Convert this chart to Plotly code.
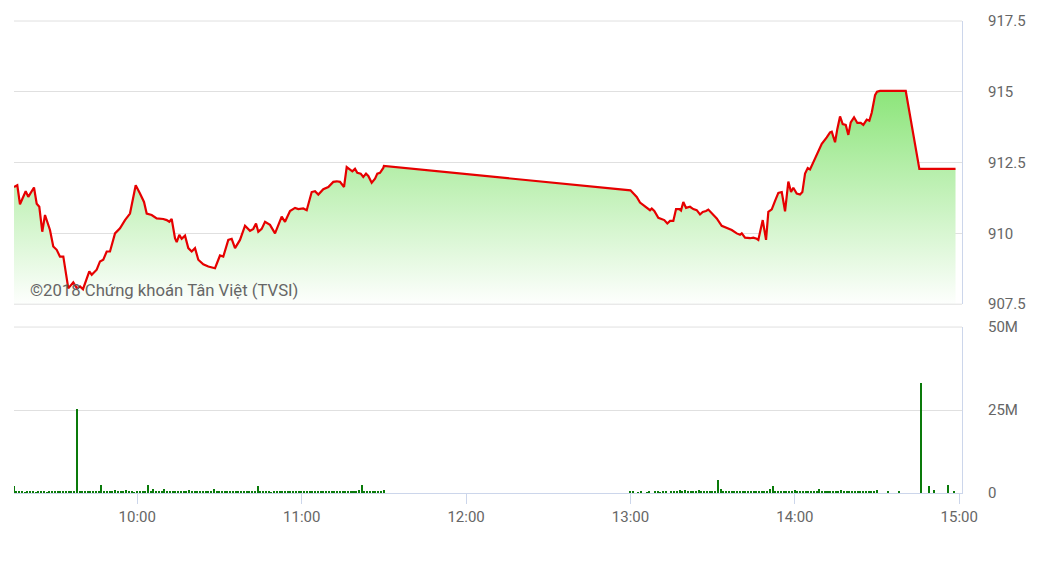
import plotly.graph_objects as go
from datetime import datetime, timedelta

DAY = "2018-08-20"

# ---- price (VN-Index intraday) ----
price_time = [
    "09:15:00", "09:16:12", "09:17:11", "09:18:23", "09:19:16", "09:20:13", "09:21:28", "09:22:18",
    "09:23:17", "09:24:14", "09:25:19", "09:26:19", "09:28:08", "09:29:20", "09:30:35", "09:31:47",
    "09:33:00", "09:34:49", "09:36:38", "09:38:00", "09:39:05", "09:40:11", "09:42:29", "09:43:22",
    "09:45:11", "09:46:23", "09:47:35", "09:48:50", "09:50:02", "09:51:52", "09:53:41", "09:55:31",
    "09:57:20", "09:59:25", "10:00:59", "10:02:27", "10:03:26", "10:05:15", "10:07:05", "10:09:29",
    "10:10:44", "10:11:41", "10:12:33", "10:13:46", "10:14:23", "10:15:20", "10:16:12", "10:17:25",
    "10:18:37", "10:19:51", "10:21:04", "10:22:16", "10:24:05", "10:25:55", "10:28:22", "10:30:11",
    "10:31:23", "10:33:13", "10:34:27", "10:35:40", "10:37:29", "10:39:19", "10:41:08", "10:42:20",
    "10:43:20", "10:44:10", "10:45:24", "10:46:37", "10:48:26", "10:50:16", "10:52:42", "10:53:55",
    "10:55:44", "10:57:34", "10:58:46", "11:00:35", "11:01:50", "11:03:39", "11:04:52", "11:06:04",
    "11:07:53", "11:09:43", "11:11:32", "11:12:47", "11:13:59", "11:15:27", "11:16:26", "11:17:38",
    "11:18:29", "11:19:28", "11:20:18", "11:21:32", "11:22:29", "11:23:29", "11:24:19", "11:25:33",
    "11:26:46", "11:27:36", "11:28:35", "11:29:47", "11:30:00",
    "13:00:00", "13:02:17", "13:03:29", "13:04:41", "13:05:56", "13:07:08", "13:07:46", "13:08:42",
    "13:10:10", "13:11:24", "13:12:21", "13:13:27", "13:14:26", "13:15:38", "13:16:38", "13:17:50",
    "13:18:27", "13:19:17", "13:20:17", "13:21:44", "13:22:56", "13:24:11", "13:25:23", "13:26:22",
    "13:27:35", "13:28:25", "13:29:40", "13:31:29", "13:33:18", "13:35:08", "13:36:58", "13:38:47",
    "13:39:59", "13:40:37", "13:41:49", "13:43:38", "13:44:50", "13:46:05", "13:46:40", "13:48:16",
    "13:49:29", "13:50:19", "13:51:34", "13:52:46", "13:53:58", "13:55:13", "13:56:25", "13:57:37",
    "13:58:36", "13:59:26", "14:00:41", "14:01:53", "14:02:44", "14:03:43", "14:04:42", "14:05:32",
    "14:06:44", "14:08:12", "14:09:49", "14:11:38", "14:12:50", "14:13:28", "14:14:40", "14:15:30",
    "14:16:29", "14:17:28", "14:18:34", "14:19:31", "14:20:23", "14:21:36", "14:22:48", "14:24:02",
    "14:24:59", "14:26:14", "14:27:11", "14:28:04", "14:29:16", "14:30:00", "14:31:05", "14:40:28",
    "14:45:26", "14:58:38",
]
price_value = [
    911.64, 911.70, 911.03, 911.29, 911.49, 911.29, 911.52, 911.62,
    911.05, 910.94, 910.06, 910.65, 910.12, 909.54, 909.42, 909.18,
    909.18, 908.06, 908.27, 908.06, 908.13, 908.03, 908.66, 908.54,
    908.72, 909.01, 909.07, 909.36, 909.36, 910.00, 910.18, 910.47,
    910.70, 911.70, 911.41, 911.11, 910.70, 910.65, 910.53, 910.51,
    910.47, 910.41, 910.51, 909.83, 909.69, 909.95, 909.81, 909.92,
    909.48, 909.36, 909.48, 909.07, 908.91, 908.83, 908.77, 909.22,
    909.18, 909.77, 909.81, 909.48, 909.77, 910.27, 910.09, 910.16,
    910.35, 910.06, 910.16, 910.41, 910.30, 910.00, 910.59, 910.41,
    910.79, 910.90, 910.86, 910.88, 910.82, 911.46, 911.49, 911.37,
    911.56, 911.64, 911.82, 911.84, 911.82, 911.64, 912.34, 912.26,
    912.19, 912.28, 912.14, 912.11, 911.99, 912.11, 912.03, 911.79,
    911.93, 912.11, 912.14, 912.31, 912.38,
    911.52, 911.29, 911.09, 911.00, 910.90, 910.82, 910.88, 910.79,
    910.55, 910.51, 910.47, 910.35, 910.44, 910.44, 910.86, 910.86,
    910.81, 911.11, 910.90, 910.94, 910.86, 910.82, 910.67, 910.76,
    910.79, 910.84, 910.70, 910.53, 910.27, 910.20, 910.12, 910.00,
    909.95, 910.00, 909.85, 909.83, 909.85, 909.81, 909.77, 910.47,
    909.77, 910.76, 910.85, 911.15, 911.43, 911.46, 910.78, 911.83,
    911.46, 911.61, 911.41, 911.37, 911.46, 912.11, 912.31, 912.26,
    912.52, 912.81, 913.16, 913.39, 913.57, 913.59, 913.22, 913.69,
    914.13, 913.86, 913.83, 913.48, 913.92, 914.10, 913.90, 913.90,
    913.83, 914.02, 913.98, 914.27, 914.88, 915.00, 915.03, 915.03,
    912.28, 912.28,
]

# ---- volume (millions of shares), one bar per minute ----
vol_am_start = "09:15"
vol_am = [
    2.1, 0.3, 0.3, 0.3, 0.2, 0.3, 0.3, 0.3, 0.2, 0.3,
    0.3, 0.3, 0.2, 0.3, 0.3, 0.3, 0.4, 0.3, 0.3, 0.3,
    0.7, 0.3, 0.3, 25.4, 0.6, 0.3, 0.3, 0.4, 0.3, 0.3,
    0.3, 0.3, 2.4, 0.3, 0.3, 0.3, 0.3, 1.0, 0.3, 0.3,
    0.3, 0.9, 0.3, 0.3, 0.2, 0.3, 0.3, 0.3, 0.3, 2.5,
    0.3, 1.1, 0.3, 0.3, 0.3, 1.2, 0.3, 0.3, 0.3, 0.3,
    0.7, 0.3, 0.3, 0.3, 0.8, 0.3, 0.3, 0.3, 0.4, 0.3,
    0.7, 0.3, 0.3, 1.2, 0.3, 0.3, 0.3, 0.3, 0.3, 0.3,
    0.3, 0.3, 0.3, 0.3, 0.3, 0.3, 0.3, 0.3, 0.3, 2.2,
    0.3, 0.3, 0.3, 0.3, 0.2, 0.3, 0.3, 0.3, 0.3, 0.3,
    0.3, 0.3, 0.6, 0.3, 0.3, 0.3, 0.3, 0.3, 0.3, 0.3,
    0.3, 0.3, 0.3, 0.3, 0.3, 0.3, 0.3, 0.3, 0.3, 0.3,
    0.3, 0.3, 0.3, 0.3, 0.6, 0.3, 1.0, 2.4, 0.6, 0.3,
    0.3, 0.3, 0.3, 0.3, 0.3, 1.0,
]
vol_pm_start = "13:00"
vol_pm = [
    0.3, 0.5, 0.0, 0.2, 0.3, 0.0, 0.2, 0.3, 0.0, 0.3,
    0.3, 0.2, 0.3, 0.3, 0.0, 0.3, 0.3, 0.3, 0.8, 0.3,
    1.0, 0.3, 0.3, 0.3, 0.3, 0.9, 0.3, 0.3, 0.3, 0.3,
    0.3, 0.3, 3.9, 1.2, 0.3, 0.3, 0.3, 0.3, 0.3, 0.3,
    0.3, 0.3, 0.3, 0.3, 0.3, 0.3, 0.6, 0.3, 0.3, 0.3,
    0.3, 1.2, 2.1, 0.3, 0.3, 0.3, 0.3, 0.3, 0.3, 0.3,
    0.8, 0.3, 0.3, 0.3, 0.3, 0.3, 0.3, 0.3, 0.3, 1.2,
    0.3, 0.3, 0.5, 0.3, 0.3, 0.3, 0.3, 1.0, 0.3, 0.3,
    0.3, 0.5, 0.3, 0.3, 0.3, 0.3, 0.3, 0.3, 0.3, 0.3,
    0.8, 0.0, 0.0, 0.0, 0.3, 0.0, 0.0, 0.0, 0.3,
]
vol_close_time = ["14:46", "14:49", "14:51", "14:56", "14:58"]
vol_close = [33.0, 2.2, 0.8, 2.4, 0.4]

y_ticks = [907.5, 910, 912.5, 915, 917.5]
y_ticktext = ["907.5", "910", "912.5", "915", "917.5"]
v_ticks = [0, 25, 50]
v_ticktext = ["0", "25M", "50M"]
watermark = "©2018 Chứng khoán Tân Việt (TVSI)"


def ts(hms):
    if len(hms) == 5:
        hms += ":00"
    return f"{DAY} {hms}"


def minute_series(start, values):
    t0 = datetime.fromisoformat(f"{DAY} {start}:00")
    return [(t0 + timedelta(minutes=i)).strftime("%Y-%m-%d %H:%M:%S") for i in range(len(values))]


px = [ts(t) for t in price_time]
vx = minute_series(vol_am_start, vol_am) + minute_series(vol_pm_start, vol_pm) + [ts(t) for t in vol_close_time]
vy = vol_am + vol_pm + vol_close

GRID = "#e0e0e0"
AXLINE = "#ccd6eb"
TXT = "#666666"
FONT = "Roboto"

PRICE_DOM = [0.4, 1.0]
VOL_DOM = [0.0, 0.3516]

fig = go.Figure()
fig.add_trace(go.Scatter(
    x=px, y=price_value, mode="lines",
    line=dict(color="#e60000", width=2.2),
    fill="tozeroy",
    fillgradient=dict(type="vertical", start=907.5, stop=915.03,
                      colorscale=[[0, "#ffffff"], [1, "#8de57b"]]),
    xaxis="x", yaxis="y", showlegend=False, hoverinfo="skip",
))
fig.add_trace(go.Bar(
    x=vx, y=vy, marker=dict(color="#0a7a0a", line=dict(width=0)),
    width=33000, xaxis="x2", yaxis="y2", showlegend=False, hoverinfo="skip",
))

# grid lines lying on the panel edges (plotly skips those): drawn in paper space
edge_y = [PRICE_DOM[0], PRICE_DOM[1], VOL_DOM[1]]
shapes = [dict(type="line", xref="paper", yref="paper", x0=0, x1=1, y0=v, y1=v,
               line=dict(color=GRID, width=1), layer="above") for v in edge_y]

xr = [f"{DAY} 09:15:00", f"{DAY} 15:01:00"]
fig.update_layout(
    width=1047, height=588,
    margin=dict(l=14, r=85, t=18, b=95),
    paper_bgcolor="white", plot_bgcolor="white",
    font=dict(family=FONT, size=15, color=TXT),
    bargap=0,
    shapes=shapes,
    xaxis=dict(domain=[0, 1], anchor="y", type="date", range=xr,
               showticklabels=False, showgrid=False, zeroline=False, ticks=""),
    xaxis2=dict(domain=[0, 1], anchor="y2", type="date", range=xr, matches="x",
                showgrid=False, zeroline=False, showline=True, linecolor=AXLINE, linewidth=1,
                ticks="outside", ticklen=10, tickcolor=AXLINE, tickwidth=1,
                tick0=f"{DAY} 10:00:00", dtick=3600000, tickformat="%H:%M",
                tickfont=dict(family=FONT, size=15, color=TXT)),
    yaxis=dict(domain=PRICE_DOM, anchor="x", side="right", range=[907.5, 917.5],
               tickvals=y_ticks, ticktext=y_ticktext, showgrid=True, gridcolor=GRID, gridwidth=1,
               zeroline=False, showline=True, linecolor=AXLINE, linewidth=1, ticks="",
               ticklabelstandoff=22, tickfont=dict(family=FONT, size=15, color=TXT)),
    yaxis2=dict(domain=VOL_DOM, anchor="x2", side="right", range=[0, 50],
                tickvals=v_ticks, ticktext=v_ticktext, showgrid=True, gridcolor=GRID, gridwidth=1,
                zeroline=False, showline=True, linecolor=AXLINE, linewidth=1, ticks="",
                ticklabelstandoff=22, tickfont=dict(family=FONT, size=15, color=TXT)),
    annotations=[dict(text=watermark, xref="paper", yref="paper", x=0.0148, y=0.4295,
                      xanchor="left", yanchor="middle", showarrow=False,
                      font=dict(family=FONT, size=16.7, color=TXT))],
)

fig.write_html("out.html", config={"displayModeBar": False},
               post_script="document.body.style.margin='0';")
